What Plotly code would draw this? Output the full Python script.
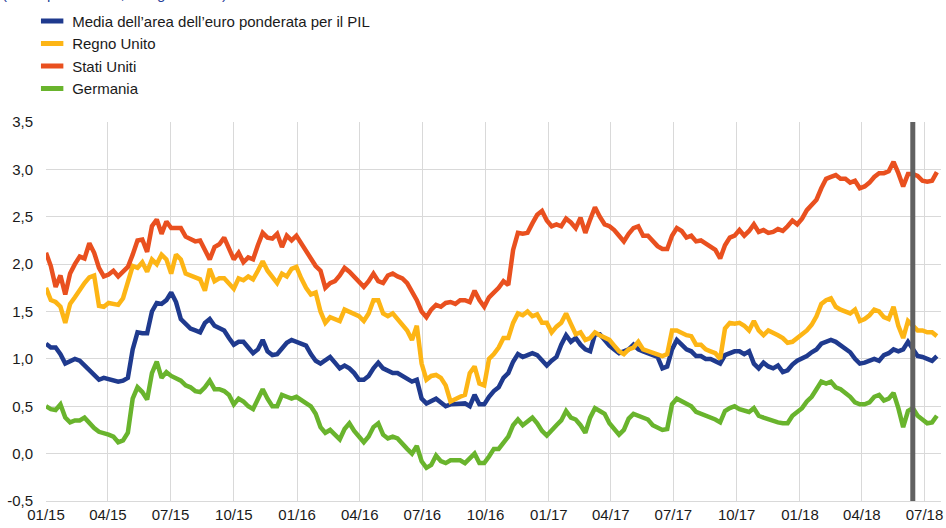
import pandas as pd
import plotly.graph_objects as go

# Weekly observations (every 7 days from 1 Jan 2015), 10-year government bond yields, %
start_date = "2015-01-01"
euro_area = [1.16, 1.12, 1.12, 1.05, 0.95, 0.97, 1.00, 0.98, 0.93, 0.88, 0.82, 0.78, 0.80, 0.79, 0.77, 0.76, 0.77, 0.80, 1.10, 1.28,
             1.27, 1.27, 1.50, 1.59, 1.58, 1.62, 1.70, 1.60, 1.42, 1.37, 1.32, 1.30, 1.28, 1.38, 1.42, 1.35, 1.33, 1.30, 1.22, 1.15, 1.18,
             1.18, 1.12, 1.06, 1.10, 1.20, 1.08, 1.04, 1.05, 1.12, 1.17, 1.20, 1.18, 1.16, 1.14, 1.05, 0.98, 0.95, 0.98, 1.02, 0.96,
             0.90, 0.93, 0.90, 0.85, 0.78, 0.78, 0.82, 0.90, 0.96, 0.90, 0.87, 0.85, 0.85, 0.82, 0.78, 0.76, 0.78, 0.58, 0.53, 0.56,
             0.58, 0.54, 0.50, 0.52, 0.52, 0.52, 0.53, 0.50,
             0.62, 0.52, 0.52, 0.60, 0.66, 0.70, 0.80, 0.85, 0.97, 1.05, 1.02, 1.04, 1.06, 1.04, 0.98, 0.93, 0.98, 1.02, 1.15, 1.25,
             1.18, 1.22, 1.15, 1.10, 1.08, 1.26, 1.26, 1.20, 1.14, 1.10, 1.06, 1.08, 1.10, 1.15, 1.10, 1.08, 1.06, 1.04, 1.02, 0.90,
             0.92, 1.10, 1.20, 1.15, 1.10, 1.08, 1.03,
             1.03, 1.00, 1.00, 0.98, 0.95, 1.04, 1.06, 1.08, 1.08, 1.05, 1.08, 0.95, 0.90, 0.96, 0.92, 0.90, 0.93, 0.86, 0.88, 0.94,
             0.98, 1.00, 1.03, 1.07, 1.10, 1.16, 1.18, 1.20, 1.18, 1.14, 1.10, 1.07, 1.00, 0.95, 0.96, 0.98, 1.00, 0.98, 1.04, 1.06,
             1.10, 1.08, 1.10, 1.18, 1.10, 1.03, 1.02, 1.00, 0.98, 1.03]
uk = [1.75, 1.62, 1.60, 1.55, 1.38, 1.58, 1.65, 1.73, 1.80, 1.86, 1.88, 1.56, 1.55, 1.59, 1.58, 1.57, 1.64, 1.80, 1.98, 1.96,
      2.02, 1.92, 2.05, 2.00, 2.10, 2.05, 1.90, 2.10, 2.05, 1.90, 1.88, 1.85, 1.84, 1.72, 1.95, 1.82, 1.85, 1.85, 1.80, 1.74, 1.85,
      1.83, 1.87, 1.84, 1.93, 2.03, 1.93, 1.86, 1.80, 1.90, 1.87, 1.95, 1.97, 1.85, 1.75, 1.68, 1.70, 1.50, 1.38, 1.44, 1.42,
      1.40, 1.52, 1.50, 1.48, 1.45, 1.40, 1.48, 1.62, 1.62, 1.48, 1.45, 1.48, 1.42, 1.35, 1.30, 1.20, 1.35, 0.95, 0.78, 0.82,
      0.83, 0.80, 0.72, 0.55, 0.58, 0.60, 0.62, 0.85,
      0.92, 0.74, 0.72, 1.00, 1.05, 1.12, 1.22, 1.22, 1.38, 1.48, 1.46, 1.50, 1.45, 1.47, 1.38, 1.38, 1.28, 1.34, 1.38, 1.48,
      1.37, 1.26, 1.28, 1.20, 1.22, 1.28, 1.25, 1.23, 1.20, 1.14, 1.08, 1.05, 1.10, 1.12, 1.18, 1.10, 1.08, 1.06, 1.05, 1.03,
      1.05, 1.30, 1.30, 1.27, 1.25, 1.24, 1.15,
      1.15, 1.10, 1.08, 1.06, 1.00, 1.32, 1.38, 1.37, 1.38, 1.35, 1.30, 1.40, 1.30, 1.25, 1.30, 1.28, 1.25, 1.22, 1.17, 1.18,
      1.22, 1.25, 1.30, 1.36, 1.45, 1.58, 1.62, 1.64, 1.55, 1.52, 1.50, 1.48, 1.52, 1.40, 1.42, 1.46, 1.52, 1.50, 1.44, 1.42,
      1.55, 1.35, 1.22, 1.40, 1.35, 1.30, 1.30, 1.28, 1.28, 1.24]
us = [2.12, 1.98, 1.76, 1.88, 1.68, 1.90, 2.00, 2.08, 2.06, 2.22, 2.12, 1.96, 1.87, 1.89, 1.93, 1.87, 1.92, 1.97, 2.10, 2.25,
      2.26, 2.13, 2.40, 2.47, 2.32, 2.45, 2.38, 2.38, 2.38, 2.29, 2.27, 2.24, 2.25, 2.15, 2.05, 2.18, 2.21, 2.28, 2.17, 2.05, 2.12,
      2.02, 2.07, 2.05, 2.20, 2.33, 2.28, 2.27, 2.32, 2.18, 2.30, 2.25, 2.30, 2.22, 2.12, 2.05, 1.98, 1.93, 1.75, 1.80, 1.82,
      1.88, 1.96, 1.92, 1.87, 1.82, 1.76, 1.82, 1.90, 1.82, 1.80, 1.88, 1.90, 1.87, 1.85, 1.80, 1.72, 1.62, 1.50, 1.44, 1.52,
      1.57, 1.55, 1.59, 1.60, 1.58, 1.62, 1.62, 1.60,
      1.72, 1.62, 1.55, 1.65, 1.70, 1.75, 1.82, 1.78, 2.15, 2.33, 2.32, 2.33, 2.43, 2.52, 2.56, 2.46, 2.40, 2.42, 2.40, 2.48,
      2.44, 2.38, 2.49, 2.33, 2.47, 2.60, 2.50, 2.42, 2.40, 2.36, 2.30, 2.24, 2.32, 2.38, 2.40, 2.30, 2.30, 2.25, 2.19, 2.16,
      2.16, 2.30, 2.38, 2.35, 2.28, 2.30, 2.24,
      2.25, 2.22, 2.19, 2.15, 2.06, 2.20, 2.28, 2.30, 2.36, 2.30, 2.35, 2.42, 2.34, 2.36, 2.33, 2.34, 2.37, 2.35, 2.40, 2.46,
      2.42, 2.48, 2.57, 2.63, 2.68, 2.80, 2.90, 2.92, 2.94, 2.90, 2.90, 2.86, 2.88, 2.80, 2.82, 2.86, 2.92, 2.96, 2.96, 2.98,
      3.08, 2.96, 2.82, 2.95, 2.95, 2.93, 2.88, 2.87, 2.88, 2.97]
germany = [0.50, 0.47, 0.46, 0.52, 0.38, 0.33, 0.35, 0.35, 0.38, 0.32, 0.27, 0.23, 0.22, 0.20, 0.18, 0.12, 0.14, 0.22, 0.58, 0.70,
           0.65, 0.57, 0.85, 0.97, 0.80, 0.86, 0.82, 0.80, 0.77, 0.72, 0.70, 0.66, 0.65, 0.70, 0.77, 0.68, 0.68, 0.66, 0.62, 0.52, 0.58,
           0.55, 0.50, 0.47, 0.58, 0.68, 0.58, 0.50, 0.50, 0.62, 0.60, 0.58, 0.60, 0.57, 0.53, 0.50, 0.42, 0.28, 0.22, 0.25, 0.20,
           0.15, 0.26, 0.32, 0.24, 0.17, 0.12, 0.18, 0.28, 0.32, 0.20, 0.16, 0.18, 0.16, 0.10, 0.05, 0.00, 0.08, -0.08, -0.15, -0.12,
           -0.02, -0.08, -0.10, -0.07, -0.07, -0.07, -0.10, -0.05,
           0.00, -0.10, -0.10, -0.03, 0.05, 0.05, 0.12, 0.18, 0.30, 0.36, 0.30, 0.34, 0.38, 0.32, 0.24, 0.19, 0.25, 0.30, 0.35, 0.45,
           0.38, 0.36, 0.30, 0.22, 0.38, 0.48, 0.45, 0.42, 0.32, 0.26, 0.20, 0.25, 0.37, 0.42, 0.40, 0.38, 0.36, 0.30, 0.27, 0.25,
           0.26, 0.52, 0.58, 0.55, 0.52, 0.50, 0.44,
           0.42, 0.40, 0.39, 0.36, 0.33, 0.45, 0.48, 0.50, 0.47, 0.46, 0.44, 0.48, 0.40, 0.38, 0.36, 0.34, 0.33, 0.32, 0.32, 0.40,
           0.44, 0.48, 0.55, 0.60, 0.68, 0.76, 0.74, 0.76, 0.70, 0.68, 0.64, 0.60, 0.54, 0.52, 0.52, 0.54, 0.60, 0.62, 0.56, 0.58,
           0.64, 0.48, 0.28, 0.45, 0.48, 0.40, 0.36, 0.32, 0.33, 0.40]

series_names = ["Media dell\u2019area dell\u2019euro ponderata per il PIL", "Regno Unito", "Stati Uniti", "Germania"]
series_colors = ["#1f3a8e", "#fdb515", "#e9501f", "#69b42d"]
tick_dates = ["2015-01-01", "2015-04-01", "2015-07-01", "2015-10-01", "2016-01-01", "2016-04-01", "2016-07-01",
              "2016-10-01", "2017-01-01", "2017-04-01", "2017-07-01", "2017-10-01", "2018-01-01", "2018-04-01", "2018-07-01"]
tick_labels = ["01/15", "04/15", "07/15", "10/15", "01/16", "04/16", "07/16", "10/16", "01/17", "04/17", "07/17",
               "10/17", "01/18", "04/18", "07/18"]
y_ticks = [-0.5, 0.0, 0.5, 1.0, 1.5, 2.0, 2.5, 3.0, 3.5]
marker_date = "2018-06-14"
subtitle = "(valori percentuali; dati giornalieri)"

n = len(us)
assert len(uk) == n and len(euro_area) == n and len(germany) == n, (len(us), len(uk), len(euro_area), len(germany))
dates = pd.date_range(start_date, periods=n, freq="7D")

FONT = "Arial, Liberation Sans, sans-serif"
fig = go.Figure()
for name, vals, col in zip(series_names, [euro_area, uk, us, germany], series_colors):
    fig.add_trace(go.Scatter(x=dates, y=vals, mode="lines", name=name, showlegend=False,
                             line=dict(color=col, width=4.5), hoverinfo="skip"))
# legend entries (short thick bars like the original)
for name, col in zip(series_names, series_colors):
    fig.add_trace(go.Scatter(x=[None], y=[None], mode="markers", name=name, showlegend=True,
                             marker=dict(symbol="line-ew", size=17, color=col,
                                         line=dict(color=col, width=6))))

fig.add_shape(type="line", xref="x", yref="y", x0=marker_date, x1=marker_date, y0=-0.5, y1=3.5,
              line=dict(color="#616161", width=5), layer="above")

fig.add_annotation(text=subtitle, xref="paper", yref="paper", x=-0.051, y=1.312,
                   xanchor="left", yanchor="bottom", showarrow=False,
                   font=dict(family=FONT, size=15, color="#1f3f99"))

fig.update_layout(
    width=946, height=528,
    margin=dict(l=46, r=5, t=122, b=27, autoexpand=False),
    paper_bgcolor="white", plot_bgcolor="white",
    separators=", ",
    font=dict(family=FONT, size=15, color="#1a1a1a"),
    legend=dict(xref="container", yref="container", x=0.034, y=0.991, xanchor="left", yanchor="top",
                bgcolor="rgba(0,0,0,0)", font=dict(family=FONT, size=15, color="#1a1a1a"),
                tracegroupgap=0, itemwidth=30),
    xaxis=dict(type="date", range=["2015-01-01", "2018-07-25"], tickmode="array",
               tickvals=tick_dates, ticktext=tick_labels, showgrid=True, gridcolor="#d9d9d9", gridwidth=1,
               showline=True, linecolor="#d9d9d9", linewidth=1, ticks="", zeroline=False, tickangle=0,
               tickfont=dict(family=FONT, size=15, color="#1a1a1a")),
    yaxis=dict(range=[-0.5, 3.5], tickmode="array", tickvals=y_ticks,
               ticktext=[f"{v:.1f}".replace(".", ",") for v in y_ticks],
               showgrid=True, gridcolor="#d9d9d9", gridwidth=1, zeroline=False, showline=False,
               ticks="", ticklabelstandoff=12, tickfont=dict(family=FONT, size=15, color="#1a1a1a")),
)

# the page's default 8px body margin would shift the 946x528 figure; remove it
fig.write_html("out.html", config={"displayModeBar": False},
               post_script="document.body.style.margin='0';document.body.style.overflow='hidden';")
